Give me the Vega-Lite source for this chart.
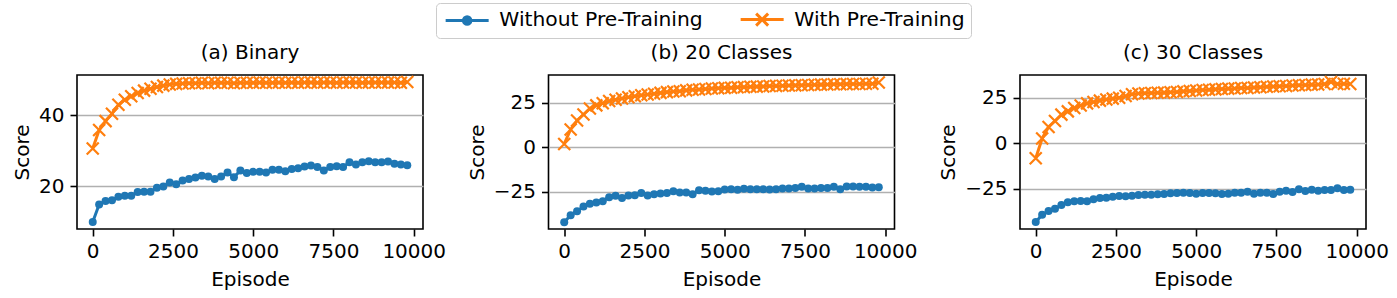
{
  "$schema": "https://vega.github.io/schema/vega-lite/v6.json",
  "padding": {"left": 11, "top": 2, "right": 5, "bottom": 5},
  "bounds": "flush",
  "spacing": 125.5,
  "datasets": {
    "a": [
      {"episode":0,"without":9.9,"with":30.6},{"episode":200,"without":14.8,"with":35.8},{"episode":400,"without":15.8,"with":38.3},{"episode":600,"without":16.0,"with":40.4},{"episode":800,"without":17.0,"with":42.9},
      {"episode":1000,"without":17.3,"with":44.3},{"episode":1200,"without":17.3,"with":45.3},{"episode":1400,"without":18.3,"with":46.2},{"episode":1600,"without":18.4,"with":46.9},{"episode":1800,"without":18.4,"with":47.4},
      {"episode":2000,"without":19.5,"with":47.9},{"episode":2200,"without":19.9,"with":48.3},{"episode":2400,"without":21.0,"with":48.6},{"episode":2600,"without":20.5,"with":48.8},{"episode":2800,"without":21.6,"with":48.9},
      {"episode":3000,"without":22.0,"with":49.0},{"episode":3200,"without":22.4,"with":49.0},{"episode":3400,"without":22.9,"with":49.1},{"episode":3600,"without":22.7,"with":49.0},{"episode":3800,"without":22.0,"with":49.1},
      {"episode":4000,"without":22.7,"with":49.1},{"episode":4200,"without":23.8,"with":49.1},{"episode":4400,"without":22.5,"with":49.0},{"episode":4600,"without":24.4,"with":49.1},{"episode":4800,"without":23.7,"with":49.1},
      {"episode":5000,"without":24.0,"with":49.1},{"episode":5200,"without":24.0,"with":49.2},{"episode":5400,"without":23.8,"with":49.1},{"episode":5600,"without":24.6,"with":49.1},{"episode":5800,"without":24.6,"with":49.2},
      {"episode":6000,"without":24.2,"with":49.1},{"episode":6200,"without":24.8,"with":49.2},{"episode":6400,"without":25.0,"with":49.1},{"episode":6600,"without":25.5,"with":49.2},{"episode":6800,"without":25.8,"with":49.2},
      {"episode":7000,"without":25.4,"with":49.1},{"episode":7200,"without":24.4,"with":49.2},{"episode":7400,"without":25.4,"with":49.2},{"episode":7600,"without":25.6,"with":49.1},{"episode":7800,"without":25.4,"with":49.2},
      {"episode":8000,"without":26.7,"with":49.2},{"episode":8200,"without":26.1,"with":49.2},{"episode":8400,"without":26.7,"with":49.1},{"episode":8600,"without":27.0,"with":49.2},{"episode":8800,"without":26.7,"with":49.2},
      {"episode":9000,"without":26.7,"with":49.2},{"episode":9200,"without":26.9,"with":49.2},{"episode":9400,"without":26.3,"with":49.2},{"episode":9600,"without":26.1,"with":49.1},{"episode":9800,"without":25.9,"with":49.3}
    ],
    "b": [
      {"episode":0,"without":-42.0,"with":1.8},{"episode":200,"without":-38.1,"with":9.9},{"episode":400,"without":-35.8,"with":14.9},{"episode":600,"without":-33.2,"with":18.3},{"episode":800,"without":-31.7,"with":21.6},
      {"episode":1000,"without":-31.0,"with":23.4},{"episode":1200,"without":-30.2,"with":24.6},{"episode":1400,"without":-28.0,"with":25.8},{"episode":1600,"without":-27.2,"with":26.6},{"episode":1800,"without":-28.4,"with":27.2},
      {"episode":2000,"without":-27.1,"with":27.9},{"episode":2200,"without":-26.9,"with":28.5},{"episode":2400,"without":-25.6,"with":29.1},{"episode":2600,"without":-27.1,"with":29.5},{"episode":2800,"without":-26.3,"with":29.9},
      {"episode":3000,"without":-25.9,"with":30.4},{"episode":3200,"without":-25.6,"with":30.8},{"episode":3400,"without":-24.6,"with":31.2},{"episode":3600,"without":-25.4,"with":31.3},{"episode":3800,"without":-25.4,"with":31.8},
      {"episode":4000,"without":-26.3,"with":32.1},{"episode":4200,"without":-24.1,"with":32.3},{"episode":4400,"without":-24.4,"with":32.6},{"episode":4600,"without":-24.8,"with":32.8},{"episode":4800,"without":-24.6,"with":33.0},
      {"episode":5000,"without":-23.7,"with":33.2},{"episode":5200,"without":-23.5,"with":33.3},{"episode":5400,"without":-23.9,"with":33.5},{"episode":5600,"without":-23.3,"with":33.6},{"episode":5800,"without":-23.5,"with":33.8},
      {"episode":6000,"without":-23.5,"with":33.9},{"episode":6200,"without":-23.5,"with":34.0},{"episode":6400,"without":-23.7,"with":34.2},{"episode":6600,"without":-23.5,"with":34.3},{"episode":6800,"without":-23.1,"with":34.4},
      {"episode":7000,"without":-23.1,"with":34.5},{"episode":7200,"without":-22.9,"with":34.6},{"episode":7400,"without":-22.2,"with":34.7},{"episode":7600,"without":-23.1,"with":34.8},{"episode":7800,"without":-23.1,"with":34.9},
      {"episode":8000,"without":-22.9,"with":35.0},{"episode":8200,"without":-22.9,"with":35.1},{"episode":8400,"without":-22.2,"with":35.2},{"episode":8600,"without":-23.5,"with":35.2},{"episode":8800,"without":-22.0,"with":35.3},
      {"episode":9000,"without":-22.0,"with":35.4},{"episode":9200,"without":-22.2,"with":35.4},{"episode":9400,"without":-22.2,"with":35.5},{"episode":9600,"without":-22.6,"with":35.5},{"episode":9800,"without":-22.4,"with":36.2}
    ],
    "c": [
      {"episode":0,"without":-43.2,"with":-8.2},{"episode":200,"without":-39.2,"with":2.7},{"episode":400,"without":-37.2,"with":9.0},{"episode":600,"without":-35.9,"with":12.3},{"episode":800,"without":-33.9,"with":15.8},
      {"episode":1000,"without":-32.4,"with":17.6},{"episode":1200,"without":-31.9,"with":19.4},{"episode":1400,"without":-31.7,"with":20.8},{"episode":1600,"without":-31.9,"with":22.0},{"episode":1800,"without":-30.8,"with":22.8},
      {"episode":2000,"without":-30.0,"with":23.5},{"episode":2200,"without":-29.9,"with":24.1},{"episode":2400,"without":-29.3,"with":24.6},{"episode":2600,"without":-28.9,"with":25.1},{"episode":2800,"without":-29.1,"with":26.0},
      {"episode":3000,"without":-28.8,"with":27.0},{"episode":3200,"without":-28.4,"with":27.4},{"episode":3400,"without":-28.2,"with":27.6},{"episode":3600,"without":-28.2,"with":27.7},{"episode":3800,"without":-28.0,"with":27.8},
      {"episode":4000,"without":-27.8,"with":27.9},{"episode":4200,"without":-27.5,"with":28.1},{"episode":4400,"without":-27.3,"with":28.3},{"episode":4600,"without":-27.1,"with":28.6},{"episode":4800,"without":-27.3,"with":28.8},
      {"episode":5000,"without":-27.7,"with":29.1},{"episode":5200,"without":-27.3,"with":29.3},{"episode":5400,"without":-27.3,"with":29.5},{"episode":5600,"without":-27.5,"with":29.7},{"episode":5800,"without":-27.8,"with":29.9},
      {"episode":6000,"without":-27.7,"with":30.1},{"episode":6200,"without":-27.1,"with":30.2},{"episode":6400,"without":-27.1,"with":30.4},{"episode":6600,"without":-26.6,"with":30.5},{"episode":6800,"without":-27.7,"with":30.7},
      {"episode":7000,"without":-27.1,"with":30.9},{"episode":7200,"without":-27.1,"with":31.1},{"episode":7400,"without":-27.8,"with":31.3},{"episode":7600,"without":-26.6,"with":31.4},{"episode":7800,"without":-26.0,"with":31.6},
      {"episode":8000,"without":-26.7,"with":31.8},{"episode":8200,"without":-25.3,"with":32.0},{"episode":8400,"without":-26.2,"with":32.1},{"episode":8600,"without":-25.5,"with":32.3},{"episode":8800,"without":-26.0,"with":32.4},
      {"episode":9000,"without":-25.6,"with":32.6},{"episode":9200,"without":-25.6,"with":33.8},{"episode":9400,"without":-24.7,"with":32.7},{"episode":9600,"without":-25.6,"with":32.8},{"episode":9800,"without":-25.5,"with":32.6}
    ]
  },
  "hconcat": [
    {
      "width": 346, "height": 154,
      "title": "(a) Binary",
      "data": {"name": "a"},
      "transform": [{"fold": ["without", "with"], "as": ["series", "score"]}],
      "encoding": {
        "x": {"field": "episode", "type": "quantitative", "scale": {"domain": [-490, 10290], "nice": false, "zero": false}, "axis": {"values": [0, 2500, 5000, 7500, 10000], "format": "d", "title": "Episode"}},
        "y": {"field": "score", "type": "quantitative", "scale": {"domain": [7.9, 51.3], "nice": false, "zero": false}, "axis": {"values": [20, 40], "format": "d", "title": "Score"}}
      },
      "layer": [
        {"mark": {"type": "line", "strokeWidth": 3},
         "encoding": {"color": {"field": "series", "type": "nominal", "scale": {"domain": ["without", "with"], "range": ["#1f77b4", "#ff7f0e"]},
           "legend": {"title": null, "orient": "none", "legendX": 359, "legendY": -72, "direction": "horizontal",
             "labelExpr": "datum.value === 'with' ? 'With Pre-Training' : 'Without Pre-Training'",
             "labelFont": "DejaVu Sans", "labelFontSize": 20.3, "labelColor": "black", "labelLimit": 0,
             "symbolSize": 100, "symbolStrokeWidth": 3, "symbolOffset": 15, "labelOffset": 22, "columnPadding": 31,
             "padding": 6, "strokeColor": "#cccccc", "fillColor": "white", "cornerRadius": 4,
             "encode": {"symbols": {"update": {
               "shape": {"signal": "datum.value === 'with' ? 'M-4.3,0L4.3,0M-1.2,-1.2L1.2,1.2M-1.2,1.2L1.2,-1.2' : 'M-4.3,0L4.3,0M-0.75,0A0.75,0.75 0 1,1 0.75,0A0.75,0.75 0 1,1 -0.75,0Z'"},
               "fill": {"signal": "scale('color', datum.value)"},
               "stroke": {"signal": "scale('color', datum.value)"},
               "strokeWidth": {"value": 3},
               "opacity": {"value": 1}}}}}}}},
        {"transform": [{"filter": "datum.series === 'without'"}], "mark": {"type": "point", "shape": "circle", "filled": true, "size": 64, "color": "#1f77b4", "opacity": 1}},
        {"transform": [{"filter": "datum.series === 'with'"}], "mark": {"type": "point", "shape": "M-1,-1L1,1M-1,1L1,-1", "filled": false, "size": 144, "strokeWidth": 2.2, "color": "#ff7f0e", "opacity": 1}}
      ]
    },
    {
      "width": 346, "height": 154,
      "title": "(b) 20 Classes",
      "data": {"name": "b"},
      "transform": [{"fold": ["without", "with"], "as": ["series", "score"]}],
      "encoding": {
        "x": {"field": "episode", "type": "quantitative", "scale": {"domain": [-490, 10290], "nice": false, "zero": false}, "axis": {"values": [0, 2500, 5000, 7500, 10000], "format": "d", "title": "Episode"}},
        "y": {"field": "score", "type": "quantitative", "scale": {"domain": [-45.8, 40.4], "nice": false, "zero": false}, "axis": {"values": [-25, 0, 25], "format": "d", "title": "Score"}}
      },
      "layer": [
        {"mark": {"type": "line", "strokeWidth": 3},
         "encoding": {"color": {"field": "series", "type": "nominal", "scale": {"domain": ["without", "with"], "range": ["#1f77b4", "#ff7f0e"]}}}},
        {"transform": [{"filter": "datum.series === 'without'"}], "mark": {"type": "point", "shape": "circle", "filled": true, "size": 64, "color": "#1f77b4", "opacity": 1}},
        {"transform": [{"filter": "datum.series === 'with'"}], "mark": {"type": "point", "shape": "M-1,-1L1,1M-1,1L1,-1", "filled": false, "size": 144, "strokeWidth": 2.2, "color": "#ff7f0e", "opacity": 1}}
      ]
    },
    {
      "width": 346, "height": 154,
      "title": "(c) 30 Classes",
      "data": {"name": "c"},
      "transform": [{"fold": ["without", "with"], "as": ["series", "score"]}],
      "encoding": {
        "x": {"field": "episode", "type": "quantitative", "scale": {"domain": [-490, 10290], "nice": false, "zero": false}, "axis": {"values": [0, 2500, 5000, 7500, 10000], "format": "d", "title": "Episode"}},
        "y": {"field": "score", "type": "quantitative", "scale": {"domain": [-47.1, 37.6], "nice": false, "zero": false}, "axis": {"values": [-25, 0, 25], "format": "d", "title": "Score"}}
      },
      "layer": [
        {"mark": {"type": "line", "strokeWidth": 3},
         "encoding": {"color": {"field": "series", "type": "nominal", "scale": {"domain": ["without", "with"], "range": ["#1f77b4", "#ff7f0e"]}}}},
        {"transform": [{"filter": "datum.series === 'without'"}], "mark": {"type": "point", "shape": "circle", "filled": true, "size": 64, "color": "#1f77b4", "opacity": 1}},
        {"transform": [{"filter": "datum.series === 'with'"}], "mark": {"type": "point", "shape": "M-1,-1L1,1M-1,1L1,-1", "filled": false, "size": 144, "strokeWidth": 2.2, "color": "#ff7f0e", "opacity": 1}}
      ]
    }
  ],
  "config": {
    "font": "DejaVu Sans",
    "view": {"stroke": "black", "strokeWidth": 1.6},
    "axis": {"labelFont": "DejaVu Sans", "titleFont": "DejaVu Sans", "labelFontSize": 20, "titleFontSize": 20, "titleFontWeight": "normal",
      "labelColor": "black", "titleColor": "black", "tickColor": "black", "tickSize": 7, "tickWidth": 1.6, "domain": false, "grid": false,
      "labelFlush": false, "labelOverlap": false},
    "axisX": {"labelPadding": 5.5, "titlePadding": 8},
    "axisY": {"grid": true, "gridColor": "#b0b0b0", "gridWidth": 1.6, "labelPadding": 6, "titlePadding": 6},
    "title": {"font": "DejaVu Sans", "fontSize": 20, "fontWeight": "normal", "color": "black", "baseline": "alphabetic", "offset": 9}
  }
}
